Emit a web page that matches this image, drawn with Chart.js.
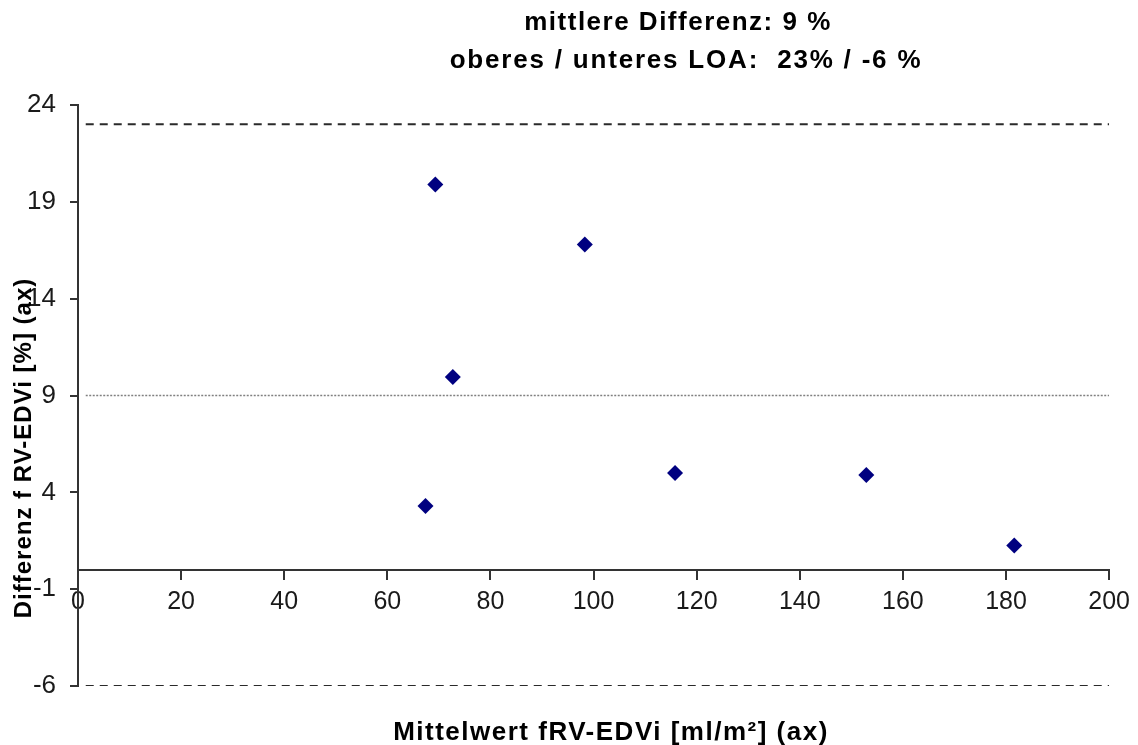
<!DOCTYPE html>
<html>
<head>
<meta charset="utf-8">
<script src="https://cdn.jsdelivr.net/npm/chart.js@4/dist/chart.umd.min.js"></script>
<style>
    html, body { margin: 0; padding: 0; background: #fff; }
    #wrap { width: 1138px; height: 745px; position: relative; }
</style>
</head>
<body>
<div id="wrap"><canvas id="blandAltman"></canvas></div>
<script>
// Werte aus dem Bland-Altman-Diagramm
const mittelwerte = [69.3, 98.3, 72.7, 67.4, 115.8, 152.9, 181.6];
const differenzen = [19.9, 16.8, 9.95, 3.3, 5.0, 4.9, 1.26];

const mittlereDifferenz = 9;
const oberesLOA = 23;
const unteresLOA = -6;
const linienX = [1.5, 200];

const yTicks = [-6, -1, 4, 9, 14, 19, 24];
const titelZeilen = ['mittlere Differenz: 9 %', 'oberes / unteres LOA:  23% / -6 %'];
const xTitel = 'Mittelwert fRV-EDVi [ml/m²] (ax)';
const yTitel = 'Differenz f RV-EDVi [%] (ax)';

const schrift = '"Liberation Sans", Arial, sans-serif';

const linie = (y) => linienX.map(x => ({ x: x, y: y }));

// Titel und Achsentitel selbst zeichnen (Position wie im Original)
const textPlugin = {
    id: 'texte',
    afterDraw(chart) {
        const ctx = chart.ctx;
        const abstand = (px) => { if ('letterSpacing' in ctx) ctx.letterSpacing = px; };
        ctx.save();
        ctx.fillStyle = '#000';
        ctx.textAlign = 'center';
        ctx.textBaseline = 'middle';

        ctx.font = 'bold 26px ' + schrift;
        abstand('1.5px');
        ctx.fillText(titelZeilen[0], 678, 23);
        abstand('1.8px');
        ctx.fillText(titelZeilen[1], 686, 61);

        ctx.font = 'bold 26px ' + schrift;
        abstand('1.5px');
        ctx.fillText(xTitel, 611, 733);

        ctx.font = 'bold 24px ' + schrift;
        abstand('1px');
        ctx.translate(24, 448);
        ctx.rotate(-Math.PI / 2);
        ctx.fillText(yTitel, 0, 0);
        ctx.restore();
    }
};

const ctx = document.getElementById('blandAltman').getContext('2d');
new Chart(ctx, {
    type: 'scatter',
    data: {
        datasets: [
            {
                label: 'Differenz',
                data: mittelwerte.map((x, i) => ({ x: x, y: differenzen[i] })),
                pointStyle: 'rectRot',
                pointRadius: 8,
                pointHoverRadius: 8,
                backgroundColor: '#000080',
                borderColor: '#000080',
                borderWidth: 0
            },
            {
                label: 'oberes LOA',
                type: 'line',
                data: linie(oberesLOA),
                borderColor: '#2a2a2a',
                borderWidth: 2,
                borderDash: [8, 6],
                pointRadius: 0,
                fill: false
            },
            {
                label: 'mittlere Differenz',
                type: 'line',
                data: linie(mittlereDifferenz),
                borderColor: '#808080',
                borderWidth: 1.5,
                borderDash: [2, 1.5],
                pointRadius: 0,
                fill: false
            },
            {
                label: 'unteres LOA',
                type: 'line',
                data: linie(unteresLOA),
                borderColor: '#2a2a2a',
                borderWidth: 2,
                borderDash: [8, 6],
                pointRadius: 0,
                fill: false
            }
        ]
    },
    options: {
        responsive: true,
        maintainAspectRatio: false,
        animation: false,
        layout: {
            padding: { left: 0, right: 27, top: 105, bottom: 59 }
        },
        plugins: {
            legend: { display: false },
            title: { display: false },
            tooltip: { enabled: false }
        },
        scales: {
            x: {
                type: 'linear',
                position: { y: 0 },
                min: 0,
                max: 200,
                ticks: {
                    stepSize: 20,
                    padding: 8,
                    color: '#1a1a1a',
                    font: { family: schrift, size: 25 }
                },
                grid: {
                    drawOnChartArea: false,
                    drawTicks: true,
                    tickLength: 9,
                    color: '#333',
                    lineWidth: 2
                },
                border: { display: true, color: '#333', width: 2 }
            },
            y: {
                type: 'linear',
                position: 'left',
                min: -6,
                max: 24,
                afterBuildTicks: axis => {
                    axis.ticks = yTicks.map(v => ({ value: v }));
                },
                afterFit: axis => {
                    axis.width = 78;
                },
                ticks: {
                    padding: 14,
                    color: '#1a1a1a',
                    font: { family: schrift, size: 26 }
                },
                grid: {
                    drawOnChartArea: false,
                    drawTicks: true,
                    tickLength: 8,
                    color: '#333',
                    lineWidth: 2
                },
                border: { display: true, color: '#333', width: 2 }
            }
        }
    },
    plugins: [textPlugin]
});
</script>
</body>
</html>
